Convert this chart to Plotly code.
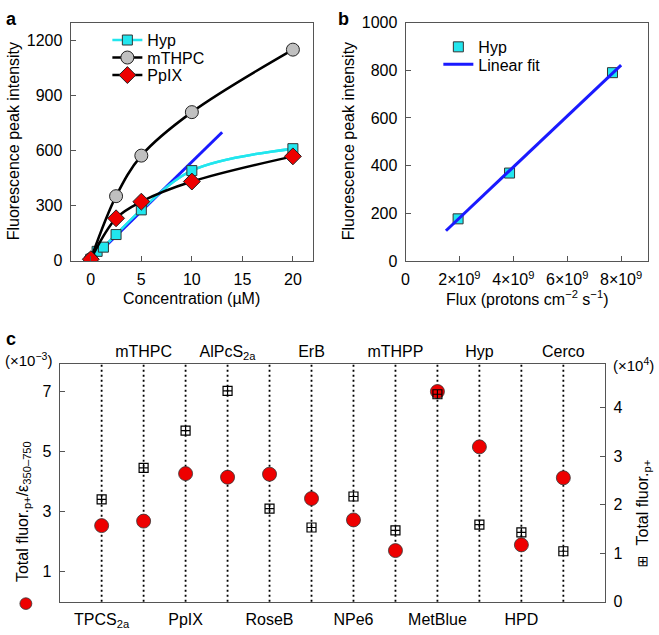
import plotly.graph_objects as go

W, H = 659, 635

# ---------- Panel a data ----------
conc_hyp = [0, 0.625, 1.25, 2.5, 5, 10, 20]
hyp_a = [5, 48, 71, 140, 275, 490, 610]
conc = [0, 2.5, 5, 10, 20]
mthpc_a = [5, 350, 572, 810, 1152]
ppix_a = [5, 229, 320, 430, 568]
fit_a_x = [0.5, 13]
fit_a_y = [25, 700]

# ---------- Panel b data ----------
flux = [1.95e9, 3.86e9, 7.68e9]
hyp_b = [177, 369, 790]
fit_b_x = [1.5e9, 8.0e9]
fit_b_y = [127, 822]
flux_ticks = [0, 2e9, 4e9, 6e9, 8e9]
flux_ticktext = ["0", "2×10<sup>9</sup>", "4×10<sup>9</sup>", "6×10<sup>9</sup>", "8×10<sup>9</sup>"]

# ---------- Panel c data ----------
compounds = ["TPCS<sub>2a</sub>", "mTHPC", "PpIX", "AlPcS<sub>2a</sub>", "RoseB", "ErB",
             "NPe6", "mTHPP", "MetBlue", "Hyp", "HPD", "Cerco"]
fluor_per_eps = [2.53, 2.68, 4.26, 4.14, 4.24, 3.43, 2.72, 1.70, 6.99, 5.15, 1.89, 4.12]   # x1e-3
total_fluor = [2.11, 2.76, 3.53, 4.35, 1.92, 1.53, 2.17, 1.47, 4.28, 1.59, 1.43, 1.04]     # x1e4
pos = list(range(1, len(compounds) + 1))

FONT = "Liberation Sans, Arial, sans-serif"
AX = "#555555"
TICKF = dict(family=FONT, size=16, color="black")

top_idx = [i for i in range(len(compounds)) if i % 2 == 1]
bot_idx = [i for i in range(len(compounds)) if i % 2 == 0]

fig = go.Figure()

# Panel a traces
fig.add_trace(go.Scatter(x=conc_hyp, y=hyp_a, mode="lines", name="Hyp", showlegend=False,
                         line=dict(color="#22e6ee", width=2.5, shape="spline"),
                         xaxis="x", yaxis="y"))
fig.add_trace(go.Scatter(x=fit_a_x, y=fit_a_y, mode="lines", showlegend=False,
                         line=dict(color="#1a1aff", width=3), xaxis="x", yaxis="y"))
fig.add_trace(go.Scatter(x=conc_hyp, y=hyp_a, mode="lines+markers", name="Hyp",
                         line=dict(color="#22e6ee", width=2.5, shape="spline"),
                         marker=dict(symbol="square", size=10, color="#22e6ee", line=dict(color="#333", width=1)),
                         xaxis="x", yaxis="y", legend="legend"))
fig.add_trace(go.Scatter(x=conc, y=mthpc_a, mode="lines+markers", name="mTHPC",
                         line=dict(color="black", width=2.5, shape="spline"),
                         marker=dict(symbol="circle", size=13, color="#c0c0c0", line=dict(color="#222", width=1)),
                         xaxis="x", yaxis="y", legend="legend3"))
fig.add_trace(go.Scatter(x=conc, y=ppix_a, mode="lines+markers", name="PpIX",
                         line=dict(color="black", width=2.5, shape="spline"),
                         marker=dict(symbol="diamond", size=13, color="#ee0000", line=dict(color="#222", width=1)),
                         xaxis="x", yaxis="y", legend="legend4"))

# Panel b traces
fig.add_trace(go.Scatter(x=flux, y=hyp_b, mode="markers", name="Hyp",
                         marker=dict(symbol="square", size=10, color="#22e6ee", line=dict(color="#333", width=1)),
                         xaxis="x2", yaxis="y2", legend="legend2"))
fig.add_trace(go.Scatter(x=fit_b_x, y=fit_b_y, mode="lines", name="Linear fit",
                         line=dict(color="#1a1aff", width=3),
                         xaxis="x2", yaxis="y2", legend="legend5"))

# Panel c traces
fig.add_trace(go.Scatter(x=pos, y=fluor_per_eps, mode="markers", showlegend=False,
                         marker=dict(symbol="circle", size=14, color="#ee0000", line=dict(color="#333", width=0.8)),
                         xaxis="x3", yaxis="y3"))
fig.add_trace(go.Scatter(x=pos, y=total_fluor, mode="markers", showlegend=False,
                         marker=dict(symbol="square-cross-open", size=9, color="black", line=dict(color="black", width=1.2)),
                         xaxis="x3", yaxis="y4"))
# invisible trace so the top category axis is drawn
fig.add_trace(go.Scatter(x=[pos[i] for i in top_idx], y=[fluor_per_eps[i] for i in top_idx], mode="markers",
                         showlegend=False, hoverinfo="skip", marker=dict(size=1, opacity=0),
                         xaxis="x4", yaxis="y3"))

shapes = []
for p in pos:
    shapes.append(dict(type="line", xref="x3", yref="y3 domain", x0=p, x1=p, y0=0, y1=1,
                       line=dict(color="black", width=1.8, dash="2px,3px"), layer="below"))

def px(x):
    return x / W

def py(y):
    return 1 - y / H

# legend-like marker beside panel c left axis title
shapes.append(dict(type="circle", xref="paper", yref="paper",
                   x0=px(16), x1=px(28), y0=py(618), y1=py(606),
                   fillcolor="#ee0000", line=dict(color="#333", width=0.8)))

axis_common = dict(showline=True, linecolor=AX, linewidth=1, mirror=True, ticks="inside",
                   ticklen=5, tickcolor=AX, showgrid=False, zeroline=False, tickfont=TICKF,
                   ticklabelstandoff=4)

ann = []
def text(x, y, t, size=16, angle=0, xanchor="center", yanchor="middle", bold=False):
    ann.append(dict(x=px(x), y=py(y), xref="paper", yref="paper", text=("<b>%s</b>" % t) if bold else t,
                    showarrow=False, textangle=angle, xanchor=xanchor, yanchor=yanchor,
                    font=dict(family=FONT, size=size, color="black")))

text(0, 11, "a", size=18, xanchor="left", bold=True)
text(334, 11, "b", size=18, xanchor="left", bold=True)
text(0, 340, "c", size=18, xanchor="left", bold=True)
text(189, 298, "Concentration (µM)")
text(9, 137, "Fluorescence peak intensity", angle=-90)
text(526, 298, "Flux (protons cm<sup>−2</sup> s<sup>−1</sup>)")
text(346, 137, "Fluorescence peak intensity", angle=-90)
text(19, 517, "Total fluor.<sub>p+</sub>/ε<sub>350–750</sub>", angle=-90)
text(643, 508, "Total fluor.<sub>p+</sub>", angle=-90)
text(643, 568, "⊞", size=14)
text(-1, 361, "(×10<sup>−3</sup>)", size=15, xanchor="left")
text(611, 366, "(×10<sup>4</sup>)", size=15, xanchor="left")

def leg(x, y):
    return dict(x=px(x), y=py(y), xanchor="left", yanchor="middle", bgcolor="rgba(0,0,0,0)",
                font=dict(family=FONT, size=16), itemwidth=30)

fig.update_layout(
    width=W, height=H, margin=dict(l=0, r=0, t=0, b=0),
    paper_bgcolor="white", plot_bgcolor="white",
    font=dict(family=FONT, size=16, color="black"),
    xaxis=dict(domain=[px(67), px(311)], range=[-2, 22], tickvals=[0, 5, 10, 15, 20], anchor="y", **axis_common),
    yaxis=dict(domain=[py(260), py(15)], range=[-5, 1300], tickvals=[0, 300, 600, 900, 1200], anchor="x", **axis_common),
    xaxis2=dict(domain=[px(404), px(648)], range=[0, 9e9], tickvals=flux_ticks, ticktext=flux_ticktext,
                anchor="y2", **axis_common),
    yaxis2=dict(domain=[py(260), py(15)], range=[0, 1000], tickvals=[0, 200, 400, 600, 800, 1000], anchor="x2", **axis_common),
    xaxis3=dict(domain=[px(56), px(605)], range=[0, 13], tickvals=[pos[i] for i in bot_idx],
                ticktext=[compounds[i] for i in bot_idx], anchor="y3", showline=True, linecolor=AX,
                mirror=True, ticks="", showgrid=False, zeroline=False, ticklabelstandoff=3,
                tickfont=dict(family=FONT, size=16, color="black")),
    xaxis4=dict(domain=[px(56), px(605)], range=[0, 13], tickvals=[pos[i] for i in top_idx],
                ticktext=[compounds[i] for i in top_idx], anchor="y3", overlaying="x3", side="top",
                showline=False, ticks="", showgrid=False, zeroline=False, ticklabelstandoff=3,
                tickfont=dict(family=FONT, size=16, color="black")),
    yaxis3=dict(domain=[py(610), py(366)], range=[0, 7.9], tickvals=[1, 3, 5, 7], anchor="x3",
                showline=True, linecolor=AX, ticks="inside", ticklen=5, tickcolor=AX, ticklabelstandoff=4,
                showgrid=False, zeroline=False, tickfont=TICKF),
    yaxis4=dict(range=[0, 4.9], tickvals=[0, 1, 2, 3, 4], anchor="x3", overlaying="y3", side="right",
                showline=True, linecolor=AX, ticks="inside", ticklen=5, tickcolor=AX, ticklabelstandoff=4,
                showgrid=False, zeroline=False, tickfont=TICKF),
    legend=leg(104, 33),
    legend3=leg(104, 51),
    legend4=leg(104, 69),
    legend2=leg(437, 40),
    legend5=leg(437, 58),
    shapes=shapes, annotations=ann, showlegend=True,
)

fig.write_html("out.html", config={"displayModeBar": False},
               post_script="document.body.style.margin='0';document.body.style.overflow='hidden';")
